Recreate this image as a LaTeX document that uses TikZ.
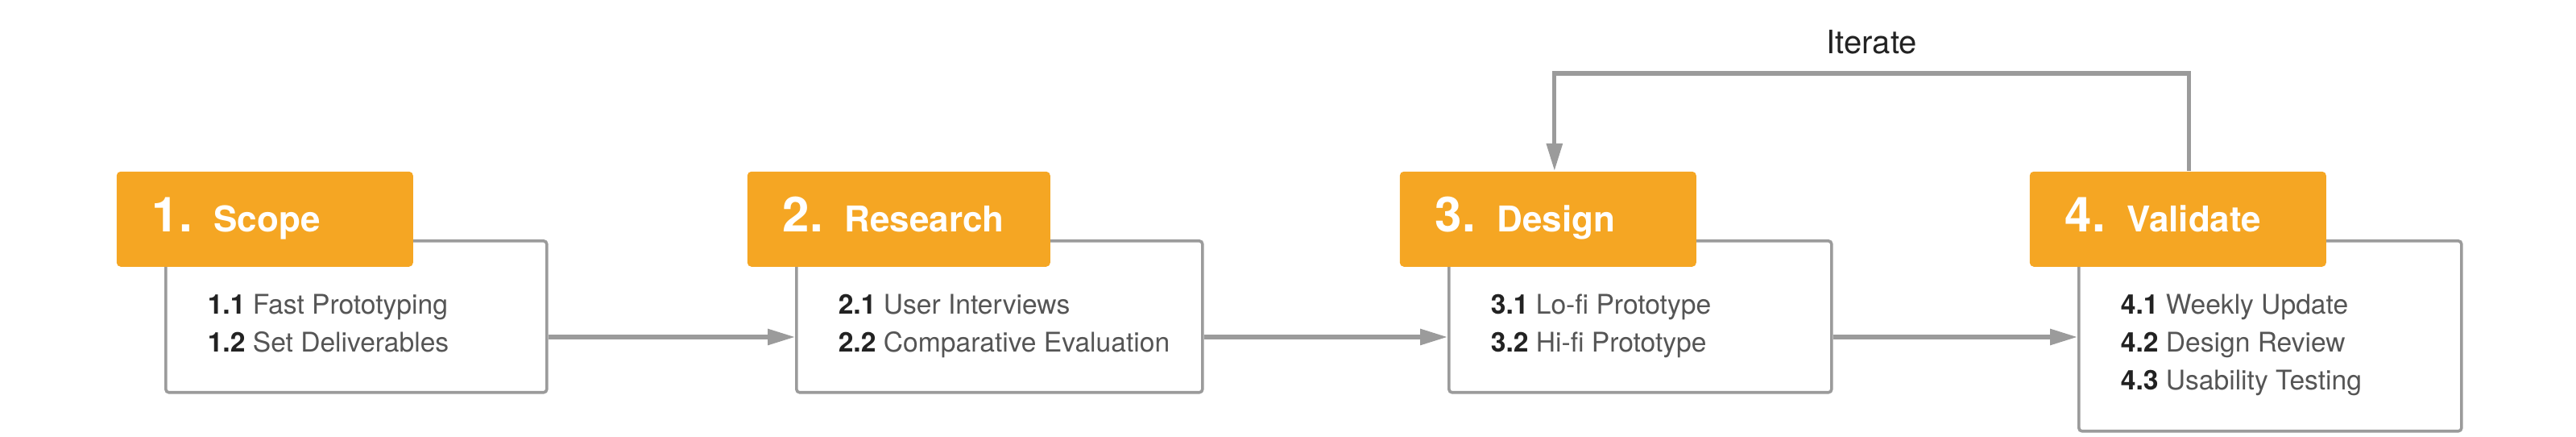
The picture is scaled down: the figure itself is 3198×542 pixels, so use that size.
\documentclass[tikz,border=0pt]{standalone}
\usepackage{fontspec}
\setmainfont{TeX Gyre Heros}
\usepackage{tikz}
\usetikzlibrary{arrows.meta}

\definecolor{stageorange}{HTML}{F5A623}
\definecolor{linegray}{HTML}{9B9B9B}
\definecolor{itemgray}{HTML}{555555}
\definecolor{numblack}{HTML}{222222}

\newcommand{\stagetitle}[2]{{\fontsize{15pt}{15pt}\selectfont\bfseries #1.}\hspace{6.7pt}{\fontsize{11pt}{11pt}\selectfont\bfseries #2}}

\tikzset{
  stagebox/.style={draw=linegray, line width=0.9pt, rounded corners=1pt,
    anchor=north west, inner sep=0pt},
  header/.style={fill=stageorange, rounded corners=1.25pt, anchor=north west,
    text=white, align=left, inner xsep=11pt, minimum height=29.5pt,
    text height=11pt, text depth=3pt},
  item/.style={anchor=base west, inner sep=0pt, text=itemgray,
    font=\fontsize{8.4pt}{10pt}\selectfont},
  flow/.style={draw=linegray, line width=1.3pt,
    -{Triangle[length=8.5pt,width=4.8pt]}}
}

\begin{document}
\begin{tikzpicture}[x=0.25pt, y=-0.25pt]
  \useasboundingbox (0,0) rectangle (3198,542);

  % boxes and their orange headers
  \foreach \i/\x/\w/\h/\hw/\title in {1/204/118.25/47/70/Scope,
      2/987/126/47/72/Research, 3/1797/118.75/47/70/Design,
      4/2579/118.75/59/70/Validate} {
    \node[stagebox, minimum width=\w pt, minimum height=\h pt] (box\i) at (\x,297) {};
    \node[header, text width=\hw pt] (head\i) at ([shift={(-60,-85)}]box\i.north west)
      {\stagetitle{\i}{\title}};
  }

  % the list in each box
  \foreach \i/\j/\txt in {1/1/Fast Prototyping, 1/2/Set Deliverables,
      2/1/User Interviews, 2/2/Comparative Evaluation,
      3/1/Lo-fi Prototype, 3/2/Hi-fi Prototype,
      4/1/Weekly Update, 4/2/Design Review, 4/3/Usability Testing} {
    \node[item] (item\i\j) at ([shift={(53,46+47*\j)}]box\i.north west)
      {\textbf{\color{numblack}\i.\j} \txt};
  }

  % arrows between the stages
  \draw[flow] ([shift={(0,121)}]box1.north east) -- ([shift={(0,121)}]box2.north west);
  \draw[flow] ([shift={(0,121)}]box2.north east) -- ([shift={(0,121)}]box3.north west);
  \draw[flow] ([shift={(0,121)}]box3.north east) -- ([shift={(0,121)}]box4.north west);

  % loop back
  \draw[flow] ([xshift=3.5pt]head4.north) -- ++(0,-121)
    -| node[pos=0.25, anchor=base, yshift=6pt, inner sep=0pt, text=numblack,
      font=\fontsize{10pt}{12pt}\selectfont] (iter) {Iterate}
    ([xshift=2pt]head3.north);
\end{tikzpicture}
\end{document}
